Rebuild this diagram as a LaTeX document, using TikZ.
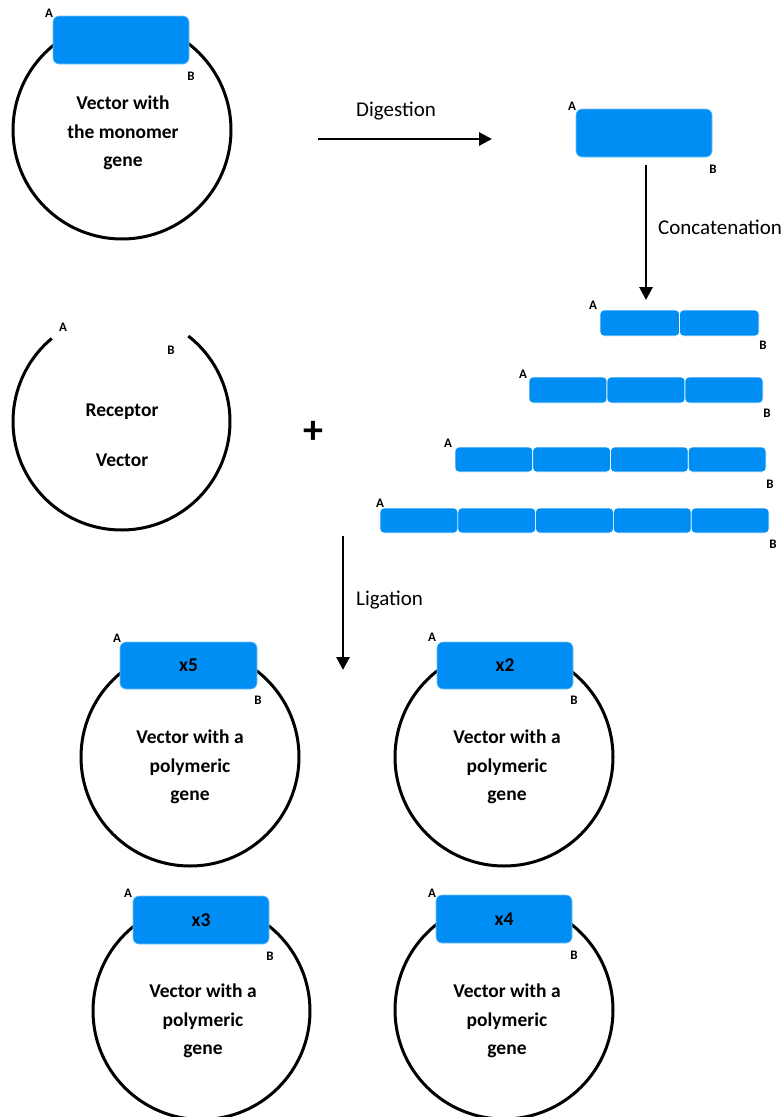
\documentclass[tikz,border=0pt]{standalone}
\usepackage{fontspec}
\setmainfont{Carlito}
\usetikzlibrary{arrows.meta}
\definecolor{geneblue}{RGB}{0,142,245}
\begin{document}
\begin{tikzpicture}[x=1pt,y=-1pt,
  gene/.style={fill=geneblue, draw=geneblue!55!white, line width=0.6pt, rounded corners=6pt, inner sep=0pt, font=\fontsize{19.5}{23}\selectfont\bfseries},
  seg/.style={fill=geneblue, draw=white, line width=0.6pt, rounded corners=4pt},
  ring/.style={draw=black, line width=3pt},
  lbl/.style={font=\fontsize{19.5}{28.5}\selectfont\bfseries, align=center, inner sep=0pt},
  endlbl/.style={font=\fontsize{13}{15}\selectfont\bfseries, inner sep=0pt},
  steplbl/.style={font=\fontsize{21}{25}\selectfont, inner sep=0pt, anchor=west},
  flow/.style={line width=2.8pt, -{Triangle[length=13pt,width=13pt]}},
]
\useasboundingbox (0,0) rectangle (781,1117);
\clip (0,0) rectangle (781,1117);

% ---------- top vector with monomer ----------
\draw[ring] (122,130) circle[radius=109];
\node[gene, minimum width=136pt, minimum height=48pt] (g0) at (121,40) {};
\node[endlbl] (g0a) at (49,13) {A};
\node[endlbl] (g0b) at (191,76) {B};
\node[lbl] (g0t) at (123,133) {Vector with\\the monomer\\gene};

% ---------- digestion ----------
\coordinate (dgs) at (318,139);
\coordinate (dge) at (492,139);
\draw[flow] (dgs) -- (dge);
\node[steplbl] (dig) at (356,111) {Digestion};

% ---------- monomer ----------
\node[gene, minimum width=136pt, minimum height=48pt] (mono) at (644,133) {};
\node[endlbl] (monoa) at (572,106) {A};
\node[endlbl] (monob) at (713,169) {B};

% ---------- concatenation ----------
\coordinate (cts) at (646,165);
\coordinate (cte) at (646,300);
\draw[flow] (cts) -- (cte);
\node[steplbl] (cat) at (658,227) {Concatenation};

% ---------- concatemers ----------
\foreach \xa/\xb/\n/\ya/\yb in {600/759/2/310/336, 529/763/3/377/403, 455/766/4/447/472, 380/769/5/508/533}{
  \pgfmathsetmacro{\w}{(\xb-\xa)/\n}
  \foreach \k in {1,...,\n}{
    \pgfmathsetmacro{\xl}{\xa+(\k-1)*\w}
    \pgfmathsetmacro{\xr}{\xa+\k*\w}
    \path[seg] (\xl,\ya) rectangle (\xr,\yb);
  }
}
\node[endlbl] (c2a) at (593,305) {A};
\node[endlbl] (c2b) at (763,345) {B};
\node[endlbl] (c3a) at (523,374) {A};
\node[endlbl] (c3b) at (767,413) {B};
\node[endlbl] (c4a) at (448,443) {A};
\node[endlbl] (c4b) at (770,484) {B};
\node[endlbl] (c5a) at (380,503) {A};
\node[endlbl] (c5b) at (773,544) {B};

% ---------- receptor vector ----------
\draw[ring] (121.5,421.5) ++(-130:108.5) arc[start angle=-130, end angle=-412, radius=108.5];
\node[endlbl] (ra) at (63,327) {A};
\node[endlbl] (rb) at (171,350) {B};
\node[lbl] (rt1) at (122,412) {Receptor};
\node[lbl] (rt2) at (122,460) {Vector};
\node[font=\fontsize{40}{40}\selectfont\bfseries, inner sep=0pt] (plus) at (313,432) {+};

% ---------- ligation ----------
\coordinate (lgs) at (343,536);
\coordinate (lge) at (343,670);
\draw[flow] (lgs) -- (lge);
\node[steplbl] (lig) at (356,600) {Ligation};

% ---------- polymeric vectors ----------
\draw[ring] (190,757) circle[radius=109];
\node[gene, minimum width=137pt, minimum height=47pt] (p5) at (188.5,665.5) {x5};
\node[endlbl] (p5a) at (117,638) {A};
\node[endlbl] (p5b) at (258,700) {B};
\node[lbl] (p5t) at (190,767) {Vector with a\\polymeric\\gene};

\draw[ring] (504,757) circle[radius=109];
\node[gene, minimum width=136pt, minimum height=47pt] (p2) at (505,665.5) {x2};
\node[endlbl] (p2a) at (432,637) {A};
\node[endlbl] (p2b) at (574,700) {B};
\node[lbl] (p2t) at (507,767) {Vector with a\\polymeric\\gene};

\draw[ring] (201.5,1011) circle[radius=108.5];
\node[gene, minimum width=136pt, minimum height=48pt] (p3) at (201,920) {x3};
\node[endlbl] (p3a) at (128,893) {A};
\node[endlbl] (p3b) at (270,956) {B};
\node[lbl] (p3t) at (203,1021) {Vector with a\\polymeric\\gene};

\draw[ring] (504,1010) circle[radius=109];
\node[gene, minimum width=136pt, minimum height=48pt] (p4) at (504,919) {x4};
\node[endlbl] (p4a) at (432,893) {A};
\node[endlbl] (p4b) at (574,955) {B};
\node[lbl] (p4t) at (507,1021) {Vector with a\\polymeric\\gene};
\end{tikzpicture}
\end{document}
